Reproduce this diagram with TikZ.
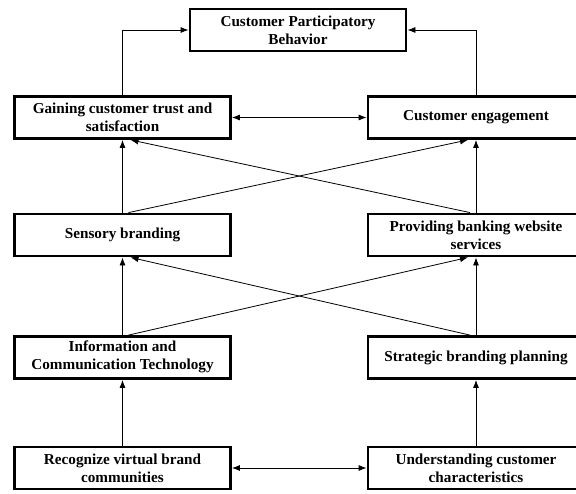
\documentclass[tikz,border=0pt]{standalone}
\usepackage{fontspec}
\setmainfont{Liberation Serif}
\usepackage{tikz}
\usetikzlibrary{arrows.meta}

\tikzset{
  box/.style={draw,line width=2.8pt,minimum width=216pt,minimum height=42pt,
    align=center,inner sep=2pt,font=\bfseries\fontsize{15.2}{18}\selectfont},
  arr/.style={-{Latex[length=8pt,width=6pt]}},
  dbl/.style={{Latex[length=8pt,width=6pt]}-{Latex[length=8pt,width=6pt]}}
}

\begin{document}
\begin{tikzpicture}[x=1pt,y=-1pt,line width=0.8pt]
\useasboundingbox (0,0) rectangle (576,493);
\path
    (298,30) node [box] (cpb) {Customer Participatory\\Behavior};
\path
    (122.5,117.5) node [box] (trust) {Gaining customer trust and\\satisfaction}
    +(0,117.5) node [box] (sensory) {Sensory branding}
    +(0,240) node [box,text depth=4pt] (ict) {Information and\\Communication Technology}
    +(0,350.5) node [box] (virtual) {Recognize virtual brand\\communities};
\path
    (476,117.5) node [box] (engage) {Customer engagement}
    +(0,117.5) node [box] (website) {Providing banking website\\services}
    +(0,240) node [box] (planning) {Strategic branding planning}
    +(0,350.5) node [box] (traits) {Understanding customer\\characteristics};
% towards the top box
\draw [arr] (trust.north) |- (cpb.west);
\draw [arr] (engage.north) |- (cpb.east);
\draw [dbl] (trust.east) -- (engage.west);
\draw [dbl] (virtual.east) -- (traits.west);
% straight up
\draw [arr] (sensory) -- (trust);
\draw [arr] (website) -- (engage);
\draw [arr] (ict) -- (sensory);
\draw [arr] (planning) -- (website);
\draw [arr] (virtual) -- (ict);
\draw [arr] (traits) -- (planning);
% crossing links
\draw [arr] ([xshift=6pt]sensory.north) -- ([xshift=-8pt]engage.south);
\draw [arr] ([xshift=-6pt]website.north) -- ([xshift=8pt]trust.south);
\draw [arr] ([xshift=6pt]ict.north) -- ([xshift=-8pt]website.south);
\draw [arr] ([xshift=-6pt]planning.north) -- ([xshift=8pt]sensory.south);
\end{tikzpicture}
\end{document}
